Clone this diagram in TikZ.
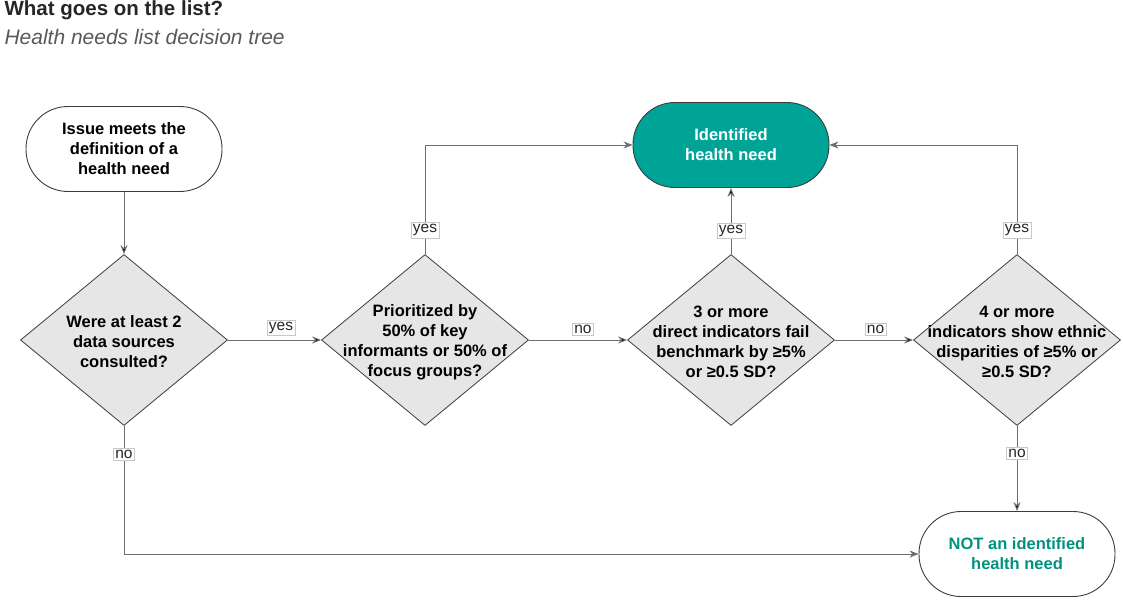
\documentclass[tikz,border=0pt]{standalone}
\usepackage{fontspec}
\setmainfont{Liberation Sans}
\usetikzlibrary{shapes.geometric,arrows.meta}
\definecolor{needteal}{HTML}{00A497}
\definecolor{notteal}{HTML}{00917F}
\definecolor{qfill}{HTML}{E6E6E6}
\definecolor{boxline}{HTML}{3C3C3C}
\definecolor{wire}{HTML}{6E6E6E}
\definecolor{tagline}{HTML}{C8C8C8}
\newcommand{\boxfont}{\fontsize{16.5}{20}\selectfont\bfseries}
\begin{document}
\begin{tikzpicture}[x=1pt,y=-1pt,>={Stealth[length=9pt,width=7pt]},
  term/.style={draw=boxline,line width=0.9pt,rounded corners=42pt,
    minimum width=196pt,minimum height=85pt,align=center,font=\boxfont},
  decision/.style={diamond,draw=boxline,line width=0.8pt,fill=qfill,
    minimum width=207pt,minimum height=171pt,inner sep=0pt},
  qtext/.style={align=center,font=\boxfont},
  tag/.style={draw=tagline,fill=white,line width=0.6pt,inner sep=2pt,
    font=\fontsize{15.5}{16}\selectfont,text=black!85},
  wire/.style={draw=wire,line width=0.9pt}]
\useasboundingbox (0,0) rectangle (1123,599);
% title
\node[anchor=base west,font=\fontsize{20.5}{22}\selectfont\bfseries,text=black!85] (title) at (1,16) {What goes on the list?};
\node[anchor=base west,font=\fontsize{21}{22}\selectfont\itshape,text=black!65] (subtitle) at (1,45) {Health needs list decision tree};
% terminals
\node[term] (issue) at (124,149) {Issue meets the\\definition of a\\health need};
\node[term,fill=needteal,text=white] (ident) at (731,145) {Identified\\health need};
\node[term,text=notteal] (notneed) at (1017,554) {NOT an identified\\health need};
% decisions
\node[decision,label={[qtext,yshift=-2pt]center:Were at least 2\\data sources\\consulted?}] (sources) at (124,340) {};
\node[decision,label={[qtext,yshift=-2pt]center:Prioritized by\\50\% of key\\informants or 50\% of\\focus groups?}] (informants) at (425,340) {};
\node[decision,label={[qtext,yshift=-2pt]center:3 or more\\direct indicators fail\\benchmark by ≥5\%\\or ≥0.5 SD?}] (bench) at (731,340) {};
\node[decision,label={[qtext,yshift=-2pt]center:4 or more\\indicators show ethnic\\disparities of ≥5\% or\\≥0.5 SD?}] (ethnic) at (1017,340) {};
% connectors
\path[->,wire] (issue) edge (sources);
\path[->,wire] (sources) edge node[tag,above=4pt,pos=0.57] {yes} (informants);
\path[->,wire] (informants) edge node[tag,above=4pt,pos=0.55] {no} (bench);
\path[->,wire] (bench) edge node[tag,above=4pt,pos=0.52] {no} (ethnic);
\path[->,wire] (bench) edge node[tag,pos=0.35] {yes} (ident);
\path[->,wire] (ethnic) edge node[tag,pos=0.32] {no} (notneed);
\draw[->,wire] (informants.north) |- node[tag,pos=0.11] {yes} (ident.west);
\draw[->,wire] (ethnic.north) |- node[tag,pos=0.11] {yes} (ident.east);
\draw[->,wire] (sources.south) |- node[tag,pos=0.11] {no} (notneed.west);
\end{tikzpicture}
\end{document}
